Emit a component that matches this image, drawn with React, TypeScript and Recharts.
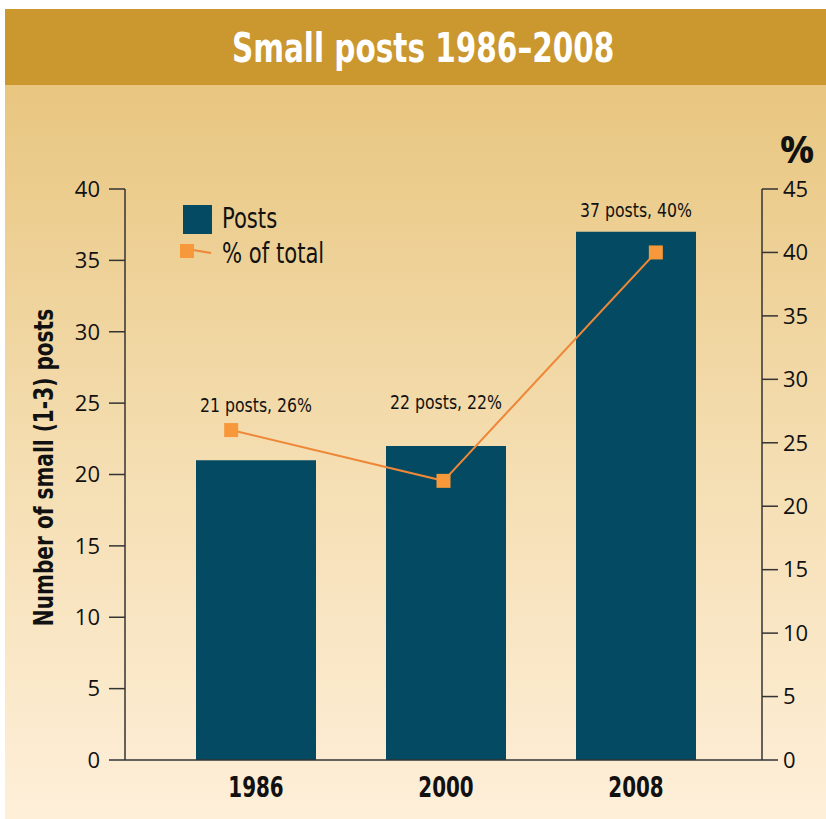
import React from 'react';
import { ComposedChart, Bar, Line, XAxis, YAxis, LabelList } from 'recharts';

const years = ['1986', '2000', '2008'];
const posts = [21, 22, 37];
const pctOfTotal = [26, 22, 40];
const valueLabels = ['21 posts, 26%', '22 posts, 22%', '37 posts, 40%'];
const postTicks = [0, 5, 10, 15, 20, 25, 30, 35, 40];
const pctTicks = [0, 5, 10, 15, 20, 25, 30, 35, 40, 45];

const data = years.map((year, i) => ({
  year,
  posts: posts[i],
  pct: pctOfTotal[i],
  label: valueLabels[i],
}));

// how far each value label sits above its bar top (px)
const labelLift = [48, 37, 15];

const NARROW = "'Liberation Sans Narrow', 'DejaVu Sans Condensed', sans-serif";
const PLAIN = "'Open Sans', 'Noto Sans', sans-serif";
const NAVY = '#034A62';
const ORANGE = '#F7993A';
const LINE = '#EE8738';
const SQUEEZE = 0.84; // fake a condensed face

const SquareDot = (props: any) => {
  const { cx, cy, index } = props;
  return <rect key={`dot-${index}`} x={cx - 7} y={cy - 7} width={14} height={14} fill={ORANGE} />;
};

const ValueLabel = (props: any) => {
  const { x, y, width, index, value } = props;
  return (
    <text
      transform={`translate(${x + width / 2}, ${y - labelLift[index]}) scale(0.92, 1)`}
      textAnchor="middle"
      fontFamily={NARROW}
      fontSize={19}
      fill="#111"
    >
      {value}
    </text>
  );
};

const YearTick = (props: any) => {
  const { x, y, payload } = props;
  return (
    <text
      transform={`translate(${x}, ${y + 29}) scale(0.79, 1)`}
      textAnchor="middle"
      fontFamily={NARROW}
      fontWeight="bold"
      fontSize={28}
      fill="#111"
    >
      {payload.value}
    </text>
  );
};

const LeftLabel = (props: any) => {
  const { viewBox } = props;
  const cx = viewBox.x + 19;
  const cy = viewBox.y + viewBox.height / 2 - 7;
  return (
    <text
      transform={`translate(${cx}, ${cy}) rotate(-90) scale(0.86, 1)`}
      textAnchor="middle"
      dominantBaseline="central"
      fontFamily={NARROW}
      fontWeight="bold"
      fontSize={26}
      fill="#111"
    >
      Number of small (1-3) posts
    </text>
  );
};

const PctLabel = (props: any) => {
  const { viewBox } = props;
  return (
    <text
      x={viewBox.x + 35}
      y={viewBox.y - 26}
      textAnchor="middle"
      fontFamily={PLAIN}
      fontWeight="bold"
      fontSize={38}
      fill="#111"
    >
      %
    </text>
  );
};

const LegendBox = () => (
  <svg width={200} height={70} style={{ position: 'absolute', left: 175, top: 200 }}>
    <rect x={8} y={5} width={29} height={29} fill={NAVY} />
    <text transform={`translate(47, 28) scale(${SQUEEZE}, 1)`} fontFamily={NARROW} fontSize={28} fill="#111">
      Posts
    </text>
    <line x1={18} y1={50} x2={36} y2={53} stroke={LINE} strokeWidth={2} />
    <rect x={5} y={44} width={14} height={14} fill={ORANGE} />
    <text transform={`translate(47, 63) scale(${SQUEEZE}, 1)`} fontFamily={NARROW} fontSize={28} fill="#111">
      % of total
    </text>
  </svg>
);

export default function App() {
  return (
    <div style={{ position: 'relative', width: 826, height: 819, background: '#fff' }}>
      <style>{'body{margin:0}'}</style>
      <div
        style={{
          position: 'absolute',
          left: 5,
          top: 9,
          width: 821,
          height: 76,
          background: '#CB972F',
          textAlign: 'center',
          lineHeight: '78px',
          paddingLeft: 16,
          boxSizing: 'border-box',
        }}
      >
        <span
          style={{
            display: 'inline-block',
            transform: 'scaleX(0.82)',
            color: '#fff',
            fontFamily: NARROW,
            fontWeight: 'bold',
            fontSize: 40,
            whiteSpace: 'nowrap',
          }}
        >
          Small posts 1986–2008
        </span>
      </div>
      <div
        style={{
          position: 'absolute',
          left: 5,
          top: 85,
          width: 821,
          height: 734,
          background: 'linear-gradient(#E8C680, #F4DDB0 50%, #FEEFD9)',
        }}
      />
      <div style={{ position: 'absolute', left: 0, top: 0 }}>
        <ComposedChart
          width={826}
          height={819}
          data={data}
          margin={{ top: 189, right: 4, bottom: 19, left: 25 }}
        >
          <XAxis
            dataKey="year"
            xAxisId="bars"
            padding={{ left: 36, right: 31 }}
            height={40}
            tickLine={false}
            axisLine={{ stroke: '#333', strokeWidth: 1.5 }}
            tick={<YearTick />}
          />
          <XAxis dataKey="year" xAxisId="line" hide />
          <YAxis
            yAxisId="left"
            width={100}
            domain={[0, 40]}
            ticks={postTicks}
            interval={0}
            tickSize={16}
            tickMargin={9}
            axisLine={{ stroke: '#333', strokeWidth: 1.5 }}
            tickLine={{ stroke: '#333', strokeWidth: 1.5 }}
            tick={{ fontFamily: PLAIN, fontSize: 22, fill: '#111' }}
            label={<LeftLabel />}
          />
          <YAxis
            yAxisId="right"
            orientation="right"
            width={60}
            domain={[0, 45]}
            ticks={pctTicks}
            interval={0}
            tickSize={16}
            tickMargin={5}
            axisLine={{ stroke: '#333', strokeWidth: 1.5 }}
            tickLine={{ stroke: '#333', strokeWidth: 1.5 }}
            tick={{ fontFamily: PLAIN, fontSize: 22, fill: '#111' }}
            label={<PctLabel />}
          />
          <Bar
            dataKey="posts"
            name="Posts"
            xAxisId="bars"
            yAxisId="left"
            fill={NAVY}
            barSize={120}
            isAnimationActive={false}
          >
            <LabelList dataKey="label" content={<ValueLabel />} />
          </Bar>
          <Line
            type="linear"
            dataKey="pct"
            name="% of total"
            xAxisId="line"
            yAxisId="right"
            stroke={LINE}
            strokeWidth={2}
            dot={<SquareDot />}
            activeDot={false}
            isAnimationActive={false}
          />
        </ComposedChart>
      </div>
      <LegendBox />
    </div>
  );
}
